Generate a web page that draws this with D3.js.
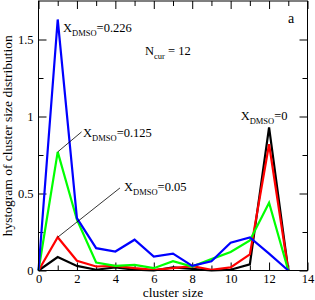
<!DOCTYPE html>
<html>
<head>
<meta charset="utf-8">
<script src="https://cdn.jsdelivr.net/npm/d3@7"></script>
<style>
  body { margin: 0; background: #fff; }
  svg { display: block; font-family: "Liberation Serif", "Times New Roman", serif; }
</style>
</head>
<body>
<svg id="chart" width="315" height="300"></svg>
<script>
const clusterSizes = [0, 1, 2, 3, 4, 5, 6, 7, 8, 9, 10, 11, 12, 13];
const x0Values = [0, 0.087, 0.03, 0.005, 0.02, 0.005, 0, 0.02, 0.01, 0, 0.005, 0.04, 0.93, 0];
const x005Values = [0, 0.216, 0.063, 0.026, 0.03, 0.015, 0.005, 0.015, 0.028, 0.005, 0.02, 0.105, 0.82, 0];
const x0125Values = [0, 0.77, 0.33, 0.052, 0.03, 0.037, 0.015, 0.06, 0.026, 0.074, 0.12, 0.195, 0.44, 0];
const x0226Values = [0, 1.63, 0.34, 0.145, 0.123, 0.2, 0.09, 0.11, 0.03, 0.06, 0.18, 0.215, 0.11, 0];
const xTicks = [0, 2, 4, 6, 8, 10, 12, 14];
const yTicks = [0, 0.5, 1, 1.5];

const series = [
  { name: "0", color: "#000000", values: x0Values },
  { name: "0.05", color: "#ff0000", values: x005Values },
  { name: "0.125", color: "#00ff00", values: x0125Values },
  { name: "0.226", color: "#0000ff", values: x0226Values },
];

const svg = d3.select("#chart");
const plotLeft = 38.5, plotRight = 307.5, plotTop = 1, plotBottom = 270.5;

const x = d3.scaleLinear().domain([0, 14]).range([plotLeft, plotRight]);
const y = d3.scaleLinear().domain([0, 1.75]).range([plotBottom, plotTop]);

const fmtY = (d) => (d === 0 ? "0" : String(d));

// minor ticks
const minorX = d3.range(1, 14, 2);
const minorY = [0.25, 0.75, 1.25];

const axes = svg.append("g").attr("class", "axes");
const styleAxis = (g) => {
  g.select(".domain").remove();
  g.selectAll("line").attr("stroke", "#000").attr("stroke-width", 1);
  g.selectAll("text").attr("fill", "#000").attr("font-size", "12.5px").attr("font-family", "Liberation Serif, serif");
};

axes.append("g").attr("transform", `translate(0,${plotBottom})`)
  .call(d3.axisBottom(x).tickValues(xTicks).tickSizeInner(-8).tickSizeOuter(0).tickPadding(4).tickFormat(d3.format("d")))
  .call(styleAxis);
axes.append("g").attr("transform", `translate(0,${plotBottom})`)
  .call(d3.axisBottom(x).tickValues(minorX).tickSizeInner(-5).tickSizeOuter(0).tickFormat(""))
  .call(styleAxis);
axes.append("g").attr("transform", `translate(0,${plotTop})`)
  .call(d3.axisTop(x).tickValues(xTicks).tickSizeInner(-8).tickSizeOuter(0).tickFormat(""))
  .call(styleAxis);
axes.append("g").attr("transform", `translate(0,${plotTop})`)
  .call(d3.axisTop(x).tickValues(minorX).tickSizeInner(-5).tickSizeOuter(0).tickFormat(""))
  .call(styleAxis);

axes.append("g").attr("transform", `translate(${plotLeft},0)`)
  .call(d3.axisLeft(y).tickValues(yTicks).tickSizeInner(-8).tickSizeOuter(0).tickPadding(5).tickFormat(fmtY))
  .call(styleAxis);
axes.append("g").attr("transform", `translate(${plotLeft},0)`)
  .call(d3.axisLeft(y).tickValues(minorY).tickSizeInner(-5).tickSizeOuter(0).tickFormat(""))
  .call(styleAxis);
axes.append("g").attr("transform", `translate(${plotRight},0)`)
  .call(d3.axisRight(y).tickValues(yTicks).tickSizeInner(-8).tickSizeOuter(0).tickFormat(""))
  .call(styleAxis);
axes.append("g").attr("transform", `translate(${plotRight},0)`)
  .call(d3.axisRight(y).tickValues(minorY).tickSizeInner(-5).tickSizeOuter(0).tickFormat(""))
  .call(styleAxis);

// data lines
const line = d3.line().x((d, i) => x(clusterSizes[i])).y((d) => y(d));
svg.append("g")
  .selectAll("path")
  .data(series)
  .join("path")
  .attr("d", (d) => line(d.values))
  .attr("fill", "none")
  .attr("stroke", (d) => d.color)
  .attr("stroke-width", 2.2)
  .attr("stroke-linejoin", "miter");

// frame
svg.append("rect")
  .attr("x", plotLeft).attr("y", plotTop)
  .attr("width", plotRight - plotLeft).attr("height", plotBottom - plotTop)
  .attr("fill", "none").attr("stroke", "#000").attr("stroke-width", 1);

// axis titles
svg.append("text")
  .attr("x", (plotLeft + plotRight) / 2).attr("y", 297)
  .attr("text-anchor", "middle").attr("font-size", "13.5px")
  .text("cluster size");

svg.append("text")
  .attr("transform", `translate(12,${(plotTop + plotBottom) / 2}) rotate(-90)`)
  .attr("text-anchor", "middle").attr("font-size", "13.5px")
  .text("hystogram of cluster size distribution");

// annotations
const annot = svg.append("g").attr("font-size", "12.5px").attr("fill", "#000");
const addLabel = (xv, yv, main, sub, rest) => {
  const t = annot.append("text").attr("x", x(xv)).attr("y", y(yv));
  t.append("tspan").text(main);
  t.append("tspan").attr("font-size", "8.5px").attr("dy", 4).text(sub);
  t.append("tspan").attr("dy", -4).text(rest);
};

addLabel(1.275, 1.549, "X", "DMSO", "=0.226");
addLabel(2.32, 0.867, "X", "DMSO", "=0.125");
addLabel(4.45, 0.516, "X", "DMSO", "=0.05");
addLabel(10.52, 0.977, "X", "DMSO", "=0");
addLabel(5.54, 1.40, "N", "cur", " = 12");

annot.append("text").attr("x", x(12.98)).attr("y", y(1.607)).attr("font-size", "14px").text("a");

const leaders = [
  { from: [1, x0125Values[1]], to: [2.24, 0.9] },
  { from: [1, x005Values[1]], to: [4.24, 0.536] },
];
annot.selectAll("line")
  .data(leaders)
  .join("line")
  .attr("x1", (d) => x(d.from[0])).attr("y1", (d) => y(d.from[1]))
  .attr("x2", (d) => x(d.to[0])).attr("y2", (d) => y(d.to[1]))
  .attr("stroke", "#000").attr("stroke-width", 0.8);
</script>
</body>
</html>
